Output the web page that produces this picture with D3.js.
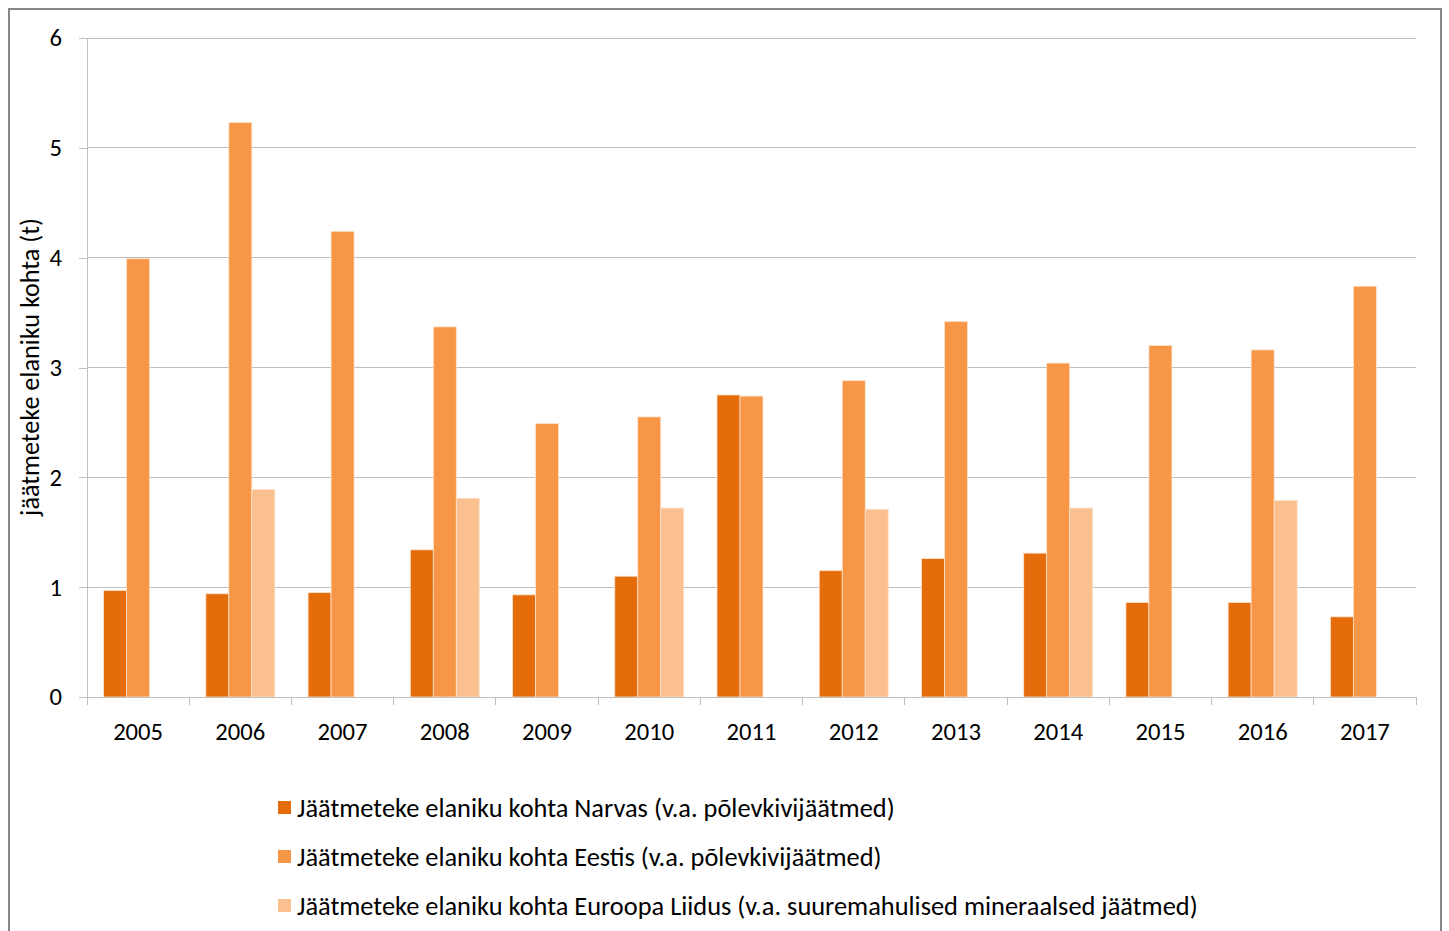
<!DOCTYPE html>
<html><head><meta charset="utf-8">
<script src="https://cdn.jsdelivr.net/npm/d3@7"></script>
<style>
html,body{margin:0;padding:0;background:#fff;}
text{font-family:Carlito, Calibri, Lato, "Open Sans", sans-serif; fill:#000;}
</style></head>
<body>
<svg id="c" width="1449" height="931"></svg>
<script>
const years = ["2005","2006","2007","2008","2009","2010","2011","2012","2013","2014","2015","2016","2017"];
const narva = [0.97,0.94,0.95,1.34,0.93,1.10,2.75,1.15,1.26,1.31,0.86,0.86,0.73];
const eesti = [3.99,5.23,4.24,3.37,2.49,2.55,2.74,2.88,3.42,3.04,3.20,3.16,3.74];
const euroopa = [null,1.89,null,1.81,null,1.72,null,1.71,null,1.72,null,1.79,null];
const seriesNames = [
  "Jäätmeteke elaniku kohta Narvas (v.a. põlevkivijäätmed)",
  "Jäätmeteke elaniku kohta Eestis (v.a. põlevkivijäätmed)",
  "Jäätmeteke elaniku kohta Euroopa Liidus (v.a. suuremahulised mineraalsed jäätmed)"
];
const colors = ["#E46C0A","#F79646","#FAC090"];
const yTicks = [0,1,2,3,4,5,6];
const yTitle = "jäätmeteke elaniku kohta (t)";
const seriesValues = [narva, eesti, euroopa];

const svg = d3.select("#c");
// outer frame
svg.append("rect").attr("x",9).attr("y",9).attr("width",1432).attr("height",940)
  .attr("fill","#fff").attr("stroke","#878787").attr("stroke-width",2);

const L=87, R=1416, T=38, B=697;
const x = d3.scaleBand().domain(years).range([L,R]).paddingInner(0).paddingOuter(0);
const x1 = d3.scaleBand().domain([0,1,2]).range([0, 69]);
const y = d3.scaleLinear().domain([0,6]).range([B,T]);

// helper: fit font size so text width matches target
function fit(sel, base, target){
  const w = sel.node().getComputedTextLength();
  sel.attr("font-size", base*target/w);
  return base*target/w;
}

// gridlines
svg.append("g").selectAll("line").data(yTicks.filter(d=>d>0)).join("line")
  .attr("x1",L).attr("x2",R).attr("y1",d=>y(d)).attr("y2",d=>y(d))
  .attr("stroke","#bfbfbf").attr("stroke-width",1).attr("shape-rendering","crispEdges");

// x tick font size fitted to "2005" ≈ 50px
const probe = svg.append("text").attr("font-size",22).text("2005");
const tickFs = fit(probe, 22, 50);
probe.remove();

// y axis
const ya = svg.append("g").attr("transform",`translate(${L},0)`)
  .call(d3.axisLeft(y).tickValues(yTicks).tickSize(8).tickPadding(17).tickFormat(d3.format("d")));
ya.select(".domain").attr("stroke","#bfbfbf").attr("shape-rendering","crispEdges");
ya.selectAll(".tick line").attr("stroke","#bfbfbf").attr("shape-rendering","crispEdges");
ya.selectAll("text").attr("font-size",tickFs).attr("fill","#000").attr("font-family","Carlito, Calibri, Lato, sans-serif");

// bars
const groups = svg.append("g").selectAll("g").data(years).join("g")
  .attr("transform",d=>`translate(${x(d)+x.bandwidth()/2-34.5},0)`);
groups.each(function(yr,i){
  const g=d3.select(this);
  seriesValues.forEach((vals,s)=>{
    const v=vals[i];
    if(v==null) return;
    g.append("rect").attr("x",x1(s)).attr("width",x1.bandwidth())
      .attr("y",y(v)).attr("height",y(0)-y(v))
      .attr("fill",colors[s]).attr("stroke","#fde3cc").attr("stroke-width",0.8);
  });
});

// x axis
const xa = svg.append("g").attr("transform",`translate(0,${B})`)
  .call(d3.axisBottom(x).tickSize(0).tickPadding(25));
xa.select(".domain").attr("stroke","#bfbfbf").attr("shape-rendering","crispEdges");
xa.selectAll("text").attr("font-size",tickFs).attr("fill","#000").attr("font-family","Carlito, Calibri, Lato, sans-serif");
// category boundary ticks
const bounds = years.map(d=>x(d)).concat([R]);
svg.append("g").selectAll("line").data(bounds).join("line")
  .attr("x1",d=>d).attr("x2",d=>d).attr("y1",B).attr("y2",B+8)
  .attr("stroke","#bfbfbf").attr("shape-rendering","crispEdges");

// y title
const yt = svg.append("text").attr("transform",`translate(39,367) rotate(-90)`)
  .attr("text-anchor","middle").attr("font-size",20).text(yTitle);
fit(yt, 20, 298);

// legend
const leg = svg.append("g").selectAll("g").data(seriesNames).join("g")
  .attr("transform",(d,i)=>`translate(278,${808+i*49})`);
leg.append("rect").attr("x",0).attr("y",-7).attr("width",13).attr("height",13).attr("fill",(d,i)=>colors[i]);
const lt = leg.append("text").attr("x",19).attr("y",0).attr("dy","0.35em").attr("font-size",21).text(d=>d);
const w0 = lt.node().getComputedTextLength();
lt.attr("font-size",21*598/w0);
</script>
</body></html>
